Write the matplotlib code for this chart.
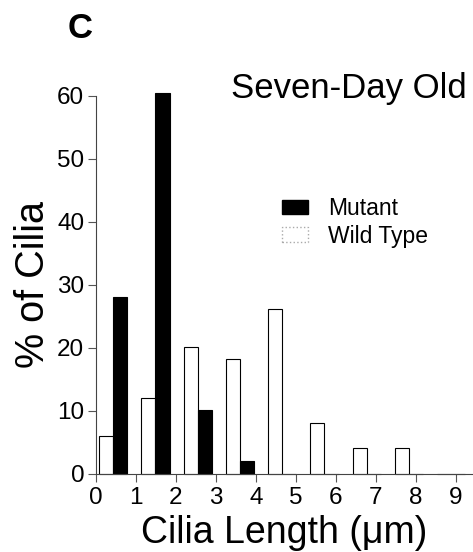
import numpy as np
import matplotlib
matplotlib.use("Agg")
import matplotlib.pyplot as plt
from matplotlib.patches import Patch

plt.rcParams['font.family'] = ['Liberation Sans', 'DejaVu Sans']

bins = np.arange(9)
mutant = [28.1, 60.4, 10.2, 2.1, 0, 0, 0, 0, 0]
wild_type = [6.0, 12.0, 20.2, 18.2, 26.2, 8.1, 4.1, 4.1, 0]
x_ticks = list(range(10))
y_ticks = [0, 10, 20, 30, 40, 50, 60]

W, H = 473, 552
fig = plt.figure(figsize=(W / 100, H / 100), dpi=100)
ax = fig.add_axes([96 / W, 1 - 474 / H, 1 - 96 / W, (474 - 95.7) / H])

pos = 0.43 + 1.057 * bins
w = 0.355
ax.bar(pos - w / 2, wild_type, width=w, color='white', edgecolor='black', linewidth=0.8, clip_on=False, zorder=2)
ax.bar(pos + w / 2, mutant, width=w, color='black', edgecolor='black', linewidth=0.8, clip_on=False, zorder=2)

ax.set_xlim(0, 9.43)
ax.set_ylim(0, 60)
ax.set_xticks(x_ticks)
ax.set_yticks(y_ticks)
ax.tick_params(axis='both', labelsize=17.5, length=5.5, width=0.8, direction='out', pad=3, color='#555555')
ax.tick_params(axis='x', pad=4)
for s in ['top', 'right']:
    ax.spines[s].set_visible(False)
for s in ['left', 'bottom']:
    ax.spines[s].set_linewidth(0.8)
    ax.spines[s].set_color('#444444')

ax.set_xlabel('Cilia Length (\u03bcm)', fontsize=27, labelpad=4)
ax.set_ylabel('% of Cilia', fontsize=28.5, labelpad=4)

fig.text(467 / W, 1 - 98 / H, 'Seven-Day Old', fontsize=25, ha='right', va='baseline')
fig.text(68 / W, 1 - 38 / H, 'C', fontsize=25, fontweight='bold', ha='left', va='baseline')

handles = [Patch(facecolor='black', edgecolor='black', label='Mutant'),
           Patch(facecolor='white', edgecolor='#aaaaaa', linestyle=':', label='Wild Type')]
leg = fig.legend(handles=handles, loc='upper left', bbox_to_anchor=(282 / W, 1 - 197 / H), frameon=False,
                 fontsize=16.5, handlelength=1.15, handleheight=0.6, handletextpad=0.87,
                 labelspacing=0.2, borderaxespad=0, borderpad=0)

fig.savefig('out.png', dpi=100)
